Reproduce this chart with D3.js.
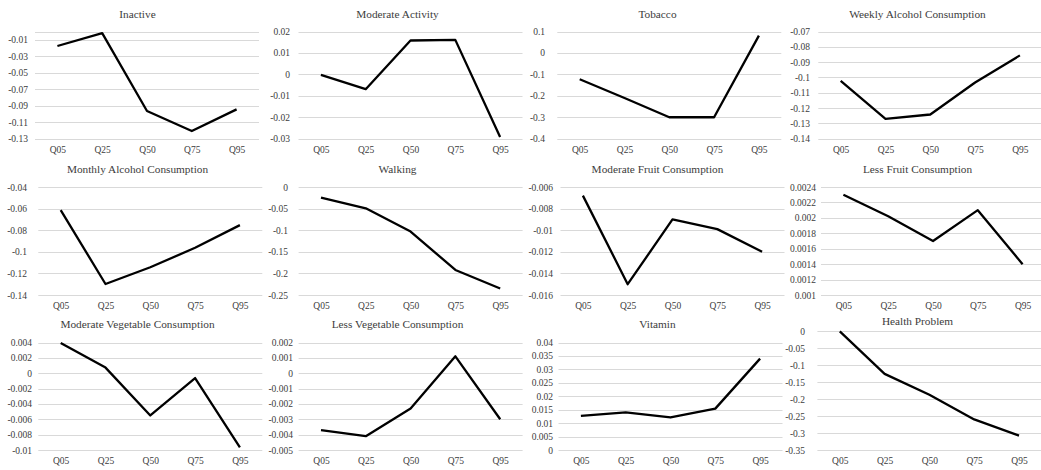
<!DOCTYPE html>
<html>
<head>
<meta charset="utf-8">
<script src="https://cdn.jsdelivr.net/npm/d3@7"></script>
<style>
  html, body { margin: 0; padding: 0; background: #fff; }
  svg { display: block; font-family: "Liberation Serif", "Times New Roman", serif; }
</style>
</head>
<body>
<svg id="chart" width="1041" height="470"></svg>
<script>
// Quantile regression coefficients by quantile, one small panel per variable.
const quantiles = ["Q05", "Q25", "Q50", "Q75", "Q95"];

const titles = [
  "Inactive", "Moderate Activity", "Tobacco", "Weekly Alcohol Consumption",
  "Monthly Alcohol Consumption", "Walking", "Moderate Fruit Consumption", "Less Fruit Consumption",
  "Moderate Vegetable Consumption", "Less Vegetable Consumption", "Vitamin", "Health Problem"
];

const inactive         = [-0.0176, -0.0019, -0.0964, -0.1207, -0.0944];
const moderateActivity = [-0.0002, -0.0069, 0.0158, 0.0161, -0.0292];
const tobacco          = [-0.123, -0.21, -0.30, -0.30, 0.081];
const weeklyAlcohol    = [-0.1022, -0.127, -0.1242, -0.1033, -0.0856];
const monthlyAlcohol   = [-0.0614, -0.1298, -0.1143, -0.0963, -0.0753];
const walking          = [-0.0245, -0.0493, -0.1032, -0.192, -0.235];
const moderateFruit    = [-0.0068, -0.0150, -0.0090, -0.0099, -0.0120];
const lessFruit        = [0.0023, 0.00202, 0.0017, 0.0021, 0.0014];
const moderateVeg      = [0.00395, 0.00073, -0.0055, -0.00063, -0.00966];
const lessVeg          = [-0.0037, -0.0041, -0.0023, 0.0011, -0.0030];
const vitamin          = [0.0127, 0.0140, 0.0121, 0.0154, 0.034];
const healthProblem    = [-0.001, -0.126, -0.1875, -0.26, -0.3076];

// Value-axis tick labels of each panel
const inactiveTicks         = [-0.01, -0.03, -0.05, -0.07, -0.09, -0.11, -0.13];
const moderateActivityTicks = [0.02, 0.01, 0, -0.01, -0.02, -0.03];
const tobaccoTicks          = [0.1, 0, -0.1, -0.2, -0.3, -0.4];
const weeklyAlcoholTicks    = [-0.07, -0.08, -0.09, -0.1, -0.11, -0.12, -0.13, -0.14];
const monthlyAlcoholTicks   = [-0.04, -0.06, -0.08, -0.1, -0.12, -0.14];
const walkingTicks          = [0, -0.05, -0.1, -0.15, -0.2, -0.25];
const moderateFruitTicks    = [-0.006, -0.008, -0.01, -0.012, -0.014, -0.016];
const lessFruitTicks        = [0.0024, 0.0022, 0.002, 0.0018, 0.0016, 0.0014, 0.0012, 0.001];
const moderateVegTicks      = [0.004, 0.002, 0, -0.002, -0.004, -0.006, -0.008, -0.01];
const lessVegTicks          = [0.002, 0.001, 0, -0.001, -0.002, -0.003, -0.004, -0.005];
const vitaminTicks          = [0.04, 0.035, 0.03, 0.025, 0.02, 0.015, 0.01, 0.005, 0];
const healthProblemTicks    = [0, -0.05, -0.1, -0.15, -0.2, -0.25, -0.3, -0.35];

// Axis maximum where it sits above the top tick (otherwise the top tick is the maximum)
const axisMaxima = [0, null, null, null, null, null, null, null, null, null, null, null];

const seriesList = [inactive, moderateActivity, tobacco, weeklyAlcohol,
  monthlyAlcohol, walking, moderateFruit, lessFruit,
  moderateVeg, lessVeg, vitamin, healthProblem];
const tickList = [inactiveTicks, moderateActivityTicks, tobaccoTicks, weeklyAlcoholTicks,
  monthlyAlcoholTicks, walkingTicks, moderateFruitTicks, lessFruitTicks,
  moderateVegTicks, lessVegTicks, vitaminTicks, healthProblemTicks];

// Layout of the 4 x 3 grid
const colX = [0, 260, 520, 780];
const plotLefts = [35, 298.5, 557.3, 818.3, 38.3, 298.6, 560.5, 821, 38.3, 298.6, 558.5, 817.4];
const labelRights = [28, 290, 545, 810, 27, 288, 553, 816, 32, 293, 553, 805];
const plotWidth = 224;
const rowLayout = [
  { titleY: 14,    top: 31.5,  bottom: 138.7 },
  { titleY: 169.5, top: 187,   bottom: 295 },
  { titleY: 324.5, top: 342.5, bottom: 450 }
];
const topOverride = { 11: { titleY: 320.7, top: 331, bottom: 450 } };

const textColor = "#3c3c3c";
const gridColor = "#d9d9d9";
const fontStack = "Liberation Serif, Times New Roman, serif";

const svg = d3.select("#chart");

seriesList.forEach((values, i) => {
  const col = i % 4, row = Math.floor(i / 4);
  const lay = topOverride[i] || rowLayout[row];
  const left = plotLefts[i], right = left + plotWidth;
  const ticks = tickList[i];
  const yMin = d3.min(ticks);
  const yMax = axisMaxima[i] != null ? axisMaxima[i] : d3.max(ticks);

  const x = d3.scalePoint().domain(quantiles).range([left, right]).padding(0.5);
  const y = d3.scaleLinear().domain([yMin, yMax]).range([lay.bottom, lay.top]);

  const g = svg.append("g");

  // Horizontal gridlines (ticks plus the axis maximum)
  const gridVals = Array.from(new Set([...ticks, yMax]));
  g.append("g").selectAll("line").data(gridVals).join("line")
    .attr("x1", left).attr("x2", right)
    .attr("y1", d => Math.round(y(d)) + 0.5).attr("y2", d => Math.round(y(d)) + 0.5)
    .attr("stroke", gridColor).attr("stroke-width", 1);

  // Value axis labels
  const yAxis = d3.axisLeft(y).tickValues(ticks).tickSize(0).tickPadding(0)
    .tickFormat(d => String(d));
  const ya = g.append("g").attr("transform", `translate(${labelRights[i]},0)`).call(yAxis);
  ya.select(".domain").remove();
  ya.selectAll("text").attr("fill", textColor).attr("font-size", 9.5)
    .attr("font-family", fontStack);

  // Category axis labels
  const xAxis = d3.axisBottom(x).tickSize(0).tickPadding(0);
  const xa = g.append("g").attr("transform", `translate(0,${lay.bottom + 7.5})`).call(xAxis);
  xa.select(".domain").remove();
  xa.selectAll("text").attr("fill", textColor).attr("font-size", 9.5)
    .attr("font-family", fontStack);

  // Series line
  const line = d3.line().x((d, k) => x(quantiles[k])).y(d => y(d));
  g.append("path").datum(values)
    .attr("d", line)
    .attr("fill", "none")
    .attr("stroke", "#000")
    .attr("stroke-width", 2.3)
    .attr("stroke-linejoin", "round")
    .attr("stroke-linecap", "butt");

  // Panel title
  g.append("text")
    .attr("x", colX[col] + 137.5)
    .attr("y", lay.titleY)
    .attr("dy", "0.35em")
    .attr("text-anchor", "middle")
    .attr("fill", textColor)
    .attr("font-size", 11.3)
    .text(titles[i]);
});
</script>
</body>
</html>
